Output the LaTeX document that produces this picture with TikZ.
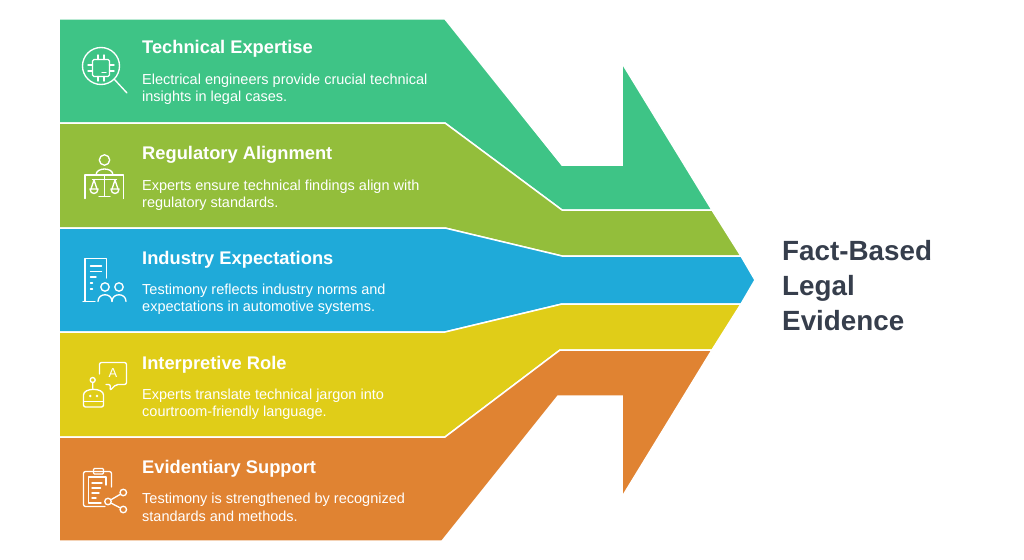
\documentclass[tikz,border=0pt]{standalone}
\usepackage{fontspec}
\setmainfont{Liberation Sans}
\definecolor{cgreen}{HTML}{3EC486}
\definecolor{colive}{HTML}{93BE3B}
\definecolor{cblue}{HTML}{1FAAD9}
\definecolor{cyellow}{HTML}{E0CD18}
\definecolor{corange}{HTML}{E08332}
\definecolor{cdark}{HTML}{363E4C}
\tikzset{
  band/.style={fill=#1, draw=white, line width=1.5pt, line join=miter},
  icon/.style={draw=white, line width=1.35pt, line cap=round, line join=round},
  ttl/.style={anchor=base west, inner sep=0pt, text=white, font=\fontsize{18.3}{20}\selectfont\bfseries},
  txt/.style={anchor=base west, inner sep=0pt, text=white, font=\fontsize{14.5}{17}\selectfont},
  big/.style={anchor=base west, inner sep=0pt, text=cdark, font=\fontsize{27.8}{34}\selectfont\bfseries},
  dot/.style={circle, draw=white, line width=1.35pt, minimum size=6.5pt, inner sep=0pt},
}
\begin{document}
\begin{tikzpicture}[x=1pt,y=-1pt]
\useasboundingbox (0,0) rectangle (1024,559);
% bands
\path[band=cgreen] (59,19) -- (445,19) -- (562,165) -- (622,165) -- (622,63) -- (712,210) -- (562,210) -- (445,123) -- (59,123) -- cycle;
\path[band=colive] (59,123) -- (445,123) -- (562,210) -- (712,210) -- (741,256) -- (562,256) -- (445,228) -- (59,228) -- cycle;
\path[band=cblue] (59,228) -- (445,228) -- (562,256) -- (741,256) -- (755,280) -- (741,304) -- (562,304) -- (445,332) -- (59,332) -- cycle;
\path[band=cyellow] (59,332) -- (445,332) -- (562,304) -- (741,304) -- (712,350) -- (560,350) -- (445,437) -- (59,437) -- cycle;
\path[band=corange] (59,437) -- (445,437) -- (560,350) -- (712,350) -- (622,497) -- (622,396) -- (558,396) -- (442,541) -- (59,541) -- cycle;

% texts
\node[ttl] (t1) at (142,54) {Technical Expertise};
\node[txt] (b1a) at (142,85) {Electrical engineers provide crucial technical};
\node[txt] (b1b) at (142,102) {insights in legal cases.};
\node[ttl] (t2) at (142,159) {Regulatory Alignment};
\node[txt] (b2a) at (142,190) {Experts ensure technical findings align with};
\node[txt] (b2b) at (142,207) {regulatory standards.};
\node[ttl] (t3) at (142,264) {Industry Expectations};
\node[txt] (b3a) at (142,294) {Testimony reflects industry norms and};
\node[txt] (b3b) at (142,311) {expectations in automotive systems.};
\node[ttl] (t4) at (142,369) {Interpretive Role};
\node[txt] (b4a) at (142,399) {Experts translate technical jargon into};
\node[txt] (b4b) at (142,416) {courtroom-friendly language.};
\node[ttl] (t5) at (142,473) {Evidentiary Support};
\node[txt] (b5a) at (142,503) {Testimony is strengthened by recognized};
\node[txt] (b5b) at (142,521) {standards and methods.};

\node[big] (f1) at (782,260) {Fact-Based};
\node[big] (f2) at (782,295) {Legal};
\node[big] (f3) at (782,330) {Evidence};

% icon 1: chip under magnifier
\draw[icon] (101,66) circle (18.5);
\draw[icon] (114.5,79.5) -- (127,93);
\draw[icon, rounded corners=1.5pt] (92.5,59.5) rectangle (109.5,76.5);
\draw[icon] (98,55) -- (98,59.5) (104,55) -- (104,59.5) (98,76.5) -- (98,81) (104,76.5) -- (104,81)
  (88,65) -- (92.5,65) (88,71) -- (92.5,71) (109.5,65) -- (114,65) (109.5,71) -- (114,71)
  (102,72.5) -- (106,72.5);

% icon 2: person with scales
\draw[icon] (104.5,160) circle (5.2);
\draw[icon] (96,175) .. controls (96,167) and (113,167) .. (113,175);
\draw[icon] (85,198.5) -- (85,175) -- (123.5,175) -- (123.5,198.5);
\draw[icon] (92.5,179.5) -- (116.5,179.5) (104.5,175) -- (104.5,196.5) (99,196.5) -- (110,196.5);
\draw[icon] (91,189) -- (94,180) -- (97,189) (112,189) -- (115,180) -- (118,189);
\draw[icon] (90,189) .. controls (90,195) and (98,195) .. (98,189) -- cycle;
\draw[icon] (111,189) .. controls (111,195) and (119,195) .. (119,189) -- cycle;

% icon 3: document with people
\draw[icon] (83,301.5) -- (95,301.5) (85,301.5) -- (85,258.5) -- (106.5,258.5) -- (106.5,278);
\draw[icon] (90.5,266) -- (101.5,266) (90.5,271.5) -- (101.5,271.5) (90.5,277) -- (96,277)
  (90.5,283) -- (92.5,283) (90.5,289) -- (92.5,289);
\draw[icon] (105,287) circle (4.2) (119,287) circle (4.2);
\draw[icon] (98,301.5) .. controls (98,292.5) and (112,292.5) .. (112,301.5);
\draw[icon] (112,301.5) .. controls (112,292.5) and (126,292.5) .. (126,301.5);

% icon 4: robot and speech bubble
\draw[icon, rounded corners=2pt] (99.5,374) -- (99.5,362.5) -- (126.5,362.5) -- (126.5,384.5) -- (116,384.5) -- (110,390.5) -- (110.5,384.5) -- (106,384.5);
\node[inner sep=0pt, text=white, font=\fontsize{13}{13}\selectfont] (letA) at (113,373.5) {A};
\draw[icon] (92.7,380) circle (2.5) (92.7,382.5) -- (92.7,388.5);
\draw[icon, rounded corners=2pt] (83.5,407) -- (83.5,397) .. controls (83.5,387.5) and (103.5,387.5) .. (103.5,397) -- (103.5,407) -- cycle;
\draw[icon] (83.5,401.5) -- (103.5,401.5);
\fill[white] (90.3,396) circle (1.4) (97,396) circle (1.4);

% icon 5: clipboard with share
\draw[icon, rounded corners=2pt] (105,506.5) -- (83.5,506.5) -- (83.5,471.5) -- (111.5,471.5) -- (111.5,487);
\draw[icon, rounded corners=1pt] (93.5,468.5) rectangle (103.5,474);
\draw[icon] (101,503) -- (88.5,503) -- (88.5,477) -- (106,477) -- (106,485);
\draw[icon] (92,483) -- (102,483) (92,488) -- (100.5,488) (92,493) -- (99,493) (92,498) -- (96,498);
\node[dot] (s1) at (123.3,492.5) {};
\node[dot] (s2) at (108,501.5) {};
\node[dot] (s3) at (123.3,509.5) {};
\draw[icon] (s2) -- (s1) (s2) -- (s3);
\end{tikzpicture}
\end{document}
